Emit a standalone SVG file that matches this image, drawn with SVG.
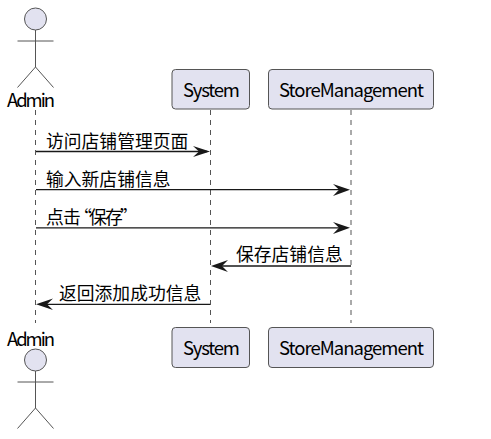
<svg xmlns="http://www.w3.org/2000/svg" width="491" height="439" viewBox="0 0 491 439">
<style>
text{font-family:"Noto Sans CJK SC","Noto Sans",sans-serif;font-size:17.800px;fill:#000}
text.lat{font-size:18.500px}
.box{fill:#E2E2F0;stroke:#555;stroke-width:1}
.life{stroke:#555;stroke-width:1;stroke-dasharray:5 5;fill:none}
.msg{stroke:#181818;stroke-width:1.3;fill:none}
.head{fill:#181818;stroke:none}
.act{fill:none;stroke:#555;stroke-width:1}
.actc{fill:#E2E2F0;stroke:#555;stroke-width:1}
</style>
<g id="connectors">
<path class="life" d="M35.500 110V323"/><path class="life" d="M210.500 110V323"/><path class="life" d="M351 110V323"/>
<path class="msg" d="M36 151.500H207"/><path class="head" d="M193 146L210 151.500L193 157L199 151.500Z"/>
<path class="msg" d="M36 189.700H347"/><path class="head" d="M333 184L350 189.700L333 196L339 189.700Z"/>
<path class="msg" d="M36 227.800H347"/><path class="head" d="M333 222L350 227.800L333 234L339 227.800Z"/>
<path class="msg" d="M214 266H351"/><path class="head" d="M228 260L211 266L228 272L222 266Z"/>
<path class="msg" d="M39 304.300H210"/><path class="head" d="M53 298.500L36 304.300L53 310L47 304.300Z"/>
<text x="46" y="147.500">访问店铺管理页面</text>
<text x="46" y="185.500">输入新店铺信息</text>
<text x="46 63 74 89 105 120" y="223.500">点击“保存”</text>
<text x="236" y="260.500">保存店铺信息</text>
<text x="59" y="299.500">返回添加成功信息</text>
</g>
<g id="admin-top"><circle class="actc" cx="35.500" cy="19" r="11"/><path class="act" d="M35.500 30V67M17.500 41H53.500M35.500 67L17.500 87.500M35.500 67L53.500 87.500"/><text class="lat" x="7" y="107" textLength="48" lengthAdjust="spacing">Admin</text></g>
<g id="system-top"><rect class="box" x="172" y="69.500" width="77.500" height="39.500" rx="3.500"/><text class="lat" x="183" y="96.500" textLength="57" lengthAdjust="spacing">System</text></g>
<g id="store-top"><rect class="box" x="268.500" y="69.500" width="165" height="39.500" rx="3.500"/><text class="lat" x="279" y="96.500" textLength="145" lengthAdjust="spacing">StoreManagement</text></g>
<g id="admin-bottom"><text class="lat" x="7" y="345.500" textLength="48" lengthAdjust="spacing">Admin</text><circle class="actc" cx="35.500" cy="360" r="11"/><path class="act" d="M35.500 371V408M17.500 382H53.500M35.500 408L17.500 428.500M35.500 408L53.500 428.500"/></g>
<g id="system-bottom"><rect class="box" x="172" y="327.500" width="77.500" height="40" rx="3.500"/><text class="lat" x="183" y="355" textLength="57" lengthAdjust="spacing">System</text></g>
<g id="store-bottom"><rect class="box" x="268.500" y="327.500" width="165" height="40" rx="3.500"/><text class="lat" x="279" y="355" textLength="145" lengthAdjust="spacing">StoreManagement</text></g>
</svg>
